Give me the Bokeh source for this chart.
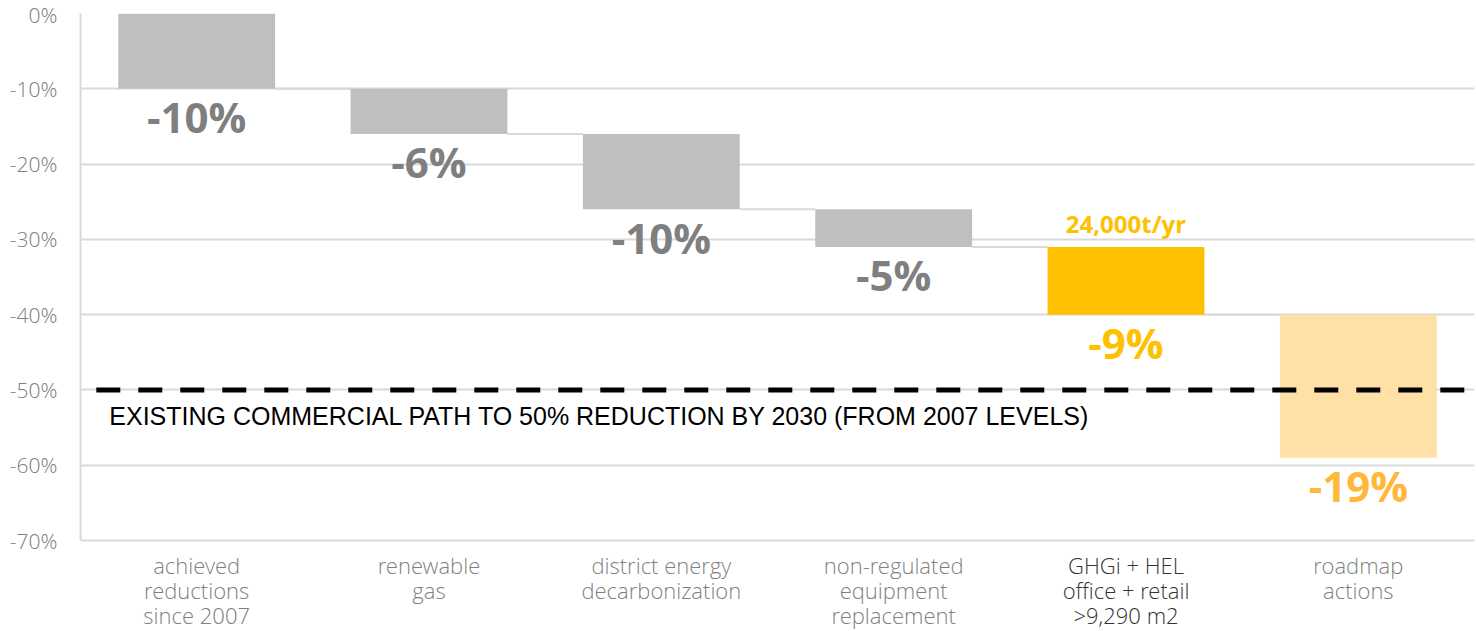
from bokeh.plotting import figure
from bokeh.models import Range1d, FixedTicker, ColumnDataSource
from bokeh.core.properties import value
from bokeh.embed import file_html
from bokeh.resources import INLINE

# Waterfall steps (percentage change from 2007 levels)
categories = [
    ["achieved", "reductions", "since 2007"],
    ["renewable", "gas"],
    ["district energy", "decarbonization"],
    ["non-regulated", "equipment", "replacement"],
    ["GHGi + HEL", "office + retail", ">9,290 m2"],
    ["roadmap", "actions"],
]
steps = [-10, -6, -10, -5, -9, -19]
step_labels = ["-10%", "-6%", "-10%", "-5%", "-9%", "-19%"]
bar_colors = ["#BFBFBF", "#BFBFBF", "#BFBFBF", "#BFBFBF", "#FFC000", "#FFE0A6"]
label_colors = ["#7F7F7F", "#7F7F7F", "#7F7F7F", "#7F7F7F", "#FFC000", "#FFB83A"]
cat_colors = ["#808080", "#808080", "#808080", "#808080", "#333333", "#808080"]
y_ticks = [0, -10, -20, -30, -40, -50, -60, -70]
y_tick_labels = ["0%", "-10%", "-20%", "-30%", "-40%", "-50%", "-60%", "-70%"]
target = -50
target_text = "EXISTING COMMERCIAL PATH TO 50% REDUCTION BY 2030 (FROM 2007 LEVELS)"
tonnes_text = "24,000t/yr"
tonnes_index = 4

# cumulative tops / bottoms
tops, bottoms = [], []
level = 0
for s in steps:
    tops.append(level)
    level += s
    bottoms.append(level)

n = len(steps)
xs = [i + 0.5 for i in range(n)]
bar_w = 0.675
y_min = -70

# the frame runs below the axis floor so the category names can sit there
px_per_unit = (540 - 13) / 70.0
y_bottom = y_min - (631 - 540) / px_per_unit

p = figure(
    width=1476, height=631,
    x_range=Range1d(0, n), y_range=Range1d(y_bottom, 0),
    output_backend="svg", toolbar_location=None,
    min_border_left=80, min_border_right=2, min_border_top=13, min_border_bottom=0,
)
p.outline_line_color = None
p.background_fill_color = "white"
p.border_fill_color = "white"

# grid
p.xgrid.grid_line_color = None
p.ygrid.grid_line_color = "#D9D9D9"
p.ygrid.grid_line_width = 2
p.ygrid.ticker = FixedTicker(ticks=y_ticks)

# y axis
p.yaxis.ticker = FixedTicker(ticks=y_ticks)
p.yaxis.bounds = (y_min, 0)
p.yaxis.major_label_overrides = {t: l for t, l in zip(y_ticks, y_tick_labels)}
p.yaxis.axis_line_color = "#D9D9D9"
p.yaxis.axis_line_width = 2
p.yaxis.major_tick_line_color = None
p.yaxis.minor_tick_line_color = None
p.yaxis.major_label_standoff = 17
p.yaxis.major_label_text_font = "Open Sans Light"
p.yaxis.major_label_text_font_size = "21px"
p.yaxis.major_label_text_color = "#808080"

p.xaxis.visible = False

src = ColumnDataSource(dict(
    x=xs, top=tops, bottom=bottoms, color=bar_colors,
    label=step_labels, lcolor=label_colors,
))

# connectors between consecutive bars
cx0 = [xs[i] + bar_w / 2 for i in range(n - 1)]
cx1 = [xs[i + 1] - bar_w / 2 for i in range(n - 1)]
cy = bottoms[:-1]
p.segment(x0=cx0, x1=cx1, y0=cy, y1=cy, line_color="#D9D9D9", line_width=2)

p.vbar(x="x", top="top", bottom="bottom", width=bar_w, fill_color="color",
       line_color=None, source=src)

# target dashed line
p.segment(x0=[0.068], x1=[n], y0=[target], y1=[target],
          line_color="black", line_width=5, line_dash="24 18")
p.text(x=[0.124], y=[target], text=[target_text], y_offset=26,
       text_font=value("Liberation Sans"), text_font_size="25px",
       text_color="black", text_baseline="middle", text_align="left")

# step value labels below each bar
p.text(x="x", y="bottom", text="label", text_color="lcolor", source=src,
       text_font=value("Open Sans"), text_font_style="bold", text_font_size="42px",
       text_align="center", text_baseline="middle", y_offset=28)

# tonnage annotation above the highlighted bar
p.text(x=[xs[tonnes_index]], y=[tops[tonnes_index]], text=[tonnes_text],
       text_color="#FFC000", text_font=value("Open Sans"), text_font_style="bold",
       text_font_size="24px", text_align="center", text_baseline="middle",
       y_offset=-23)

# category names below the axis floor
cx, cy_, ctext, ccol, coff = [], [], [], [], []
for i, lines in enumerate(categories):
    for j, line in enumerate(lines):
        cx.append(xs[i])
        cy_.append(y_min)
        ctext.append(line)
        ccol.append(cat_colors[i])
        coff.append(24 + 25 * j)
cat_src = ColumnDataSource(dict(x=cx, y=cy_, text=ctext, color=ccol, off=coff))
p.text(x="x", y="y", text="text", text_color="color", y_offset="off", source=cat_src,
       text_font=value("Open Sans Light"), text_font_size="22px",
       text_align="center", text_baseline="middle")

open("out.html", "w").write(file_html(p, INLINE))
